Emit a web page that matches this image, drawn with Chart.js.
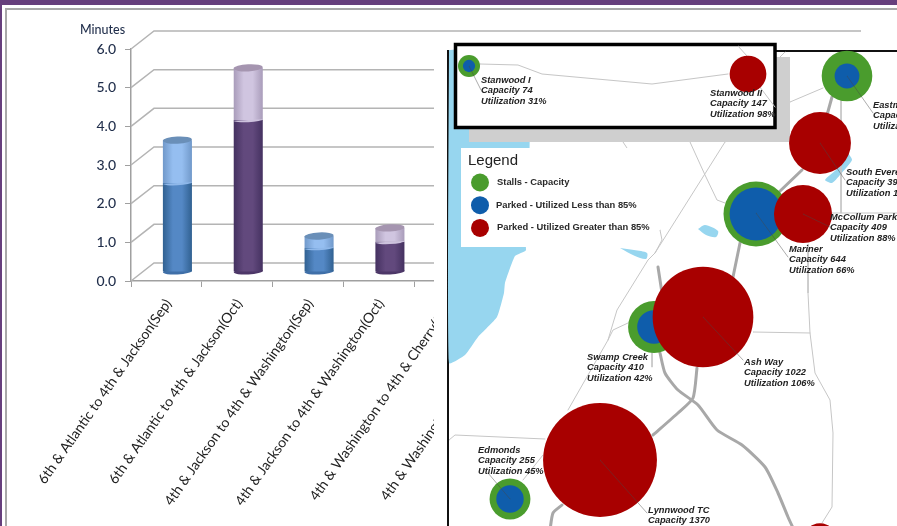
<!DOCTYPE html>
<html lang="en">
<head>
    <meta charset="UTF-8">
    <title>Travel time and park and ride utilization</title>
    <script src="https://cdn.jsdelivr.net/npm/chart.js"></script>
    <style>
        html, body { margin: 0; padding: 0; background: #fff; overflow: hidden; width: 897px; height: 526px; }
        .abs { position: absolute; }
        #topBar { left: 0; top: 0; width: 897px; height: 5px; background: #663f7c; }
        #leftBar { left: 0; top: 0; width: 2px; height: 526px; background: #663f7c; }
        #panelTop { left: 5px; top: 8px; width: 892px; height: 2px; background: #a8a8a8; }
        #panelLeft { left: 5px; top: 8px; width: 2px; height: 518px; background: #a8a8a8; }
        #timeBox { left: 0; top: 0; width: 870px; height: 526px; }
        #cover { left: 434px; top: 36px; width: 463px; height: 490px; background: #fff; }
        #mapFrame { left: 447px; top: 50px; width: 450px; height: 476px; border-left: 2px solid #111; border-top: 2px solid #111; box-sizing: border-box; }
        #mapBox { left: 447px; top: 40px; width: 450px; height: 486px; }
    </style>
</head>
<body>
    <div class="abs" id="topBar"></div>
    <div class="abs" id="leftBar"></div>
    <div class="abs" id="panelTop"></div>
    <div class="abs" id="panelLeft"></div>
    <div class="abs" id="timeBox"><canvas id="timeChart" width="870" height="526"></canvas></div>
    <div class="abs" id="cover"></div>
    <div class="abs" id="mapFrame"></div>
    <div class="abs" id="mapBox"><canvas id="mapChart" width="450" height="486"></canvas></div>

    <script>
        // travel time chart
        const segments = [
            '6th & Atlantic to 4th & Jackson(Sep)',
            '6th & Atlantic to 4th & Jackson(Oct)',
            '4th & Jackson to 4th & Washington(Sep)',
            '4th & Jackson to 4th & Washington(Oct)',
            '4th & Washington to 4th & Cherry(Sep)',
            '4th & Washington to 4th & Cherry(Oct)'
        ];
        // last two bars are hidden behind the map in the picture
        const lowerMinutes = [2.3, 3.93, 0.62, 0.78, null, null];
        const upperMinutes = [1.11, 1.35, 0.31, 0.36, null, null];
        const yTicks = [0, 1, 2, 3, 4, 5, 6];

        // park and ride map, locations in map units
        const stationNames = ['Stanwood I', 'Stanwood II', 'Eastmont', 'South Everett', 'McCollum Park', 'Mariner', 'Swamp Creek', 'Ash Way', 'Edmonds', 'Lynnwood TC', ''];
        const stationCapacity = [74, 147, 391, 397, 409, 644, 410, 1022, 255, 1370, 140];
        const stationUtilization = [31, 98, 24, 103, 88, 66, 42, 106, 45, 101, 95];
        const stationX = [469, 748, 847, 820, 803, 756, 654, 703, 510, 600, 820];
        const stationY = [66, 74, 76, 143, 214, 214, 327, 317, 499, 460, 541];
        const legendItems = ['Stalls - Capacity', 'Parked - Utilized Less than 85%', 'Parked - Utilized Greater than 85%'];

        const GREEN = '#4a9c2d', BLUE = '#0f5dab', RED = '#a80000', WATER = '#97d6ef';
        const BAR_SHIFT_X = 11, BAR_SHIFT_Y = -9;   // bars stand halfway into the 3d floor
        const WALL_X = 23, WALL_Y = -18;

        function cylinderFill(ctx, edge, middle) {
            const chart = ctx.chart;
            const cx = chart.scales.x ? chart.scales.x.getPixelForValue(ctx.dataIndex) : NaN;
            if (!isFinite(cx)) return edge;
            const g = chart.ctx.createLinearGradient(cx - 15, 0, cx + 15, 0);
            g.addColorStop(0, edge);
            g.addColorStop(0.35, middle);
            g.addColorStop(0.65, middle);
            g.addColorStop(1, edge);
            return g;
        }

        const wallPlugin = {
            id: 'wall',
            beforeDatasetsDraw(chart) {
                const c = chart.ctx, y = chart.scales.y, left = chart.chartArea.left;
                c.save();
                c.strokeStyle = '#b4b4b4';
                c.lineWidth = 1.5;
                yTicks.forEach(v => {
                    const py = y.getPixelForValue(v);
                    c.beginPath();
                    c.moveTo(left, py);
                    c.lineTo(left + WALL_X, py + WALL_Y);
                    c.lineTo(v === 6 ? 861 : 434, py + WALL_Y);
                    c.stroke();
                });
                c.restore();
                c.save();
                c.translate(BAR_SHIFT_X, BAR_SHIFT_Y);
                // round foot of each cylinder goes under the bar
                const meta = chart.getDatasetMeta(0);
                meta.data.forEach((bar, i) => {
                    if (lowerMinutes[i] === null) return;
                    c.fillStyle = i % 2 ? '#4d3768' : '#3f6fa8';
                    c.beginPath();
                    c.ellipse(bar.x, bar.base, 14.5, 3, -0.05, 0, Math.PI * 2);
                    c.fill();
                });
                c.restore();
                c.save();
                c.translate(BAR_SHIFT_X, BAR_SHIFT_Y);
            },
            afterDatasetsDraw(chart) {
                const c = chart.ctx;
                const lower = chart.getDatasetMeta(0), upper = chart.getDatasetMeta(1);
                lower.data.forEach((bar, i) => {
                    if (lowerMinutes[i] === null) return;
                    // light band hangs over the dark part, cap closes the top
                    c.fillStyle = i % 2 ? '#cdc2dd' : '#8fb8ea';
                    c.beginPath();
                    c.ellipse(bar.x, bar.y, 14.5, 2.2, -0.05, 0, Math.PI);
                    c.fill();
                    const top = upper.data[i];
                    c.fillStyle = i % 2 ? '#a595b0' : '#6a8fb8';
                    c.beginPath();
                    c.ellipse(top.x, top.y, 14.5, 3.6, -0.05, 0, Math.PI * 2);
                    c.fill();
                });
                c.restore();
            },
            afterDraw(chart) {
                const c = chart.ctx;
                c.save();
                c.fillStyle = '#1f2d4a';
                c.font = '500 12.5px Lato';
                c.textBaseline = 'middle';
                c.fillText('Minutes', 80, 30);
                c.restore();
            }
        };

        new Chart(document.getElementById('timeChart'), {
            type: 'bar',
            data: {
                labels: segments,
                datasets: [
                    {
                        label: 'Lower',
                        data: lowerMinutes,
                        backgroundColor: ctx => ctx.dataIndex % 2
                            ? cylinderFill(ctx, '#43305f', '#62497d')
                            : cylinderFill(ctx, '#2f5f8f', '#5488c5')
                    },
                    {
                        label: 'Upper',
                        data: upperMinutes,
                        backgroundColor: ctx => ctx.dataIndex % 2
                            ? cylinderFill(ctx, '#a79ab8', '#d0c5e0')
                            : cylinderFill(ctx, '#6f97c8', '#95bef0')
                    }
                ]
            },
            options: {
                responsive: false,
                animation: false,
                barPercentage: 0.41,
                categoryPercentage: 1,
                layout: { padding: { top: 49, right: 314, left: 0, bottom: 0 } },
                plugins: { legend: { display: false }, tooltip: { enabled: false } },
                scales: {
                    x: {
                        stacked: true,
                        border: { color: '#a0a0a0', width: 1.5 },
                        grid: { drawOnChartArea: false, color: '#a0a0a0', tickLength: 6, offset: true },
                        ticks: {
                            autoSkip: false, minRotation: 55, maxRotation: 55, padding: 9, labelOffset: 2,
                            color: '#222', font: { family: 'Lato', size: 14 }
                        },
                        afterFit(scale) {
                            scale.height = 245;
                            scale.paddingLeft = 0;
                            scale.paddingRight = 0;
                        }
                    },
                    y: {
                        stacked: true,
                        min: 0,
                        max: 6,
                        border: { color: '#a0a0a0', width: 1.5 },
                        grid: { drawOnChartArea: false, color: '#a0a0a0', tickLength: 6 },
                        afterBuildTicks(scale) { scale.ticks = yTicks.map(v => ({ value: v })); },
                        ticks: {
                            padding: 9,
                            color: '#1f2d4a',
                            font: { family: 'Lato', size: 14, weight: '500' },
                            callback: v => v.toFixed(1)
                        },
                        afterFit(scale) { scale.width = 131; }
                    }
                }
            },
            plugins: [wallPlugin]
        });

        // map features, same units as the station locations
        const pts = list => list.map(p => ({ x: p[0], y: p[1] }));
        const shapes = [
            { fill: WATER, path: [[449, 50], [526, 50], [526, 250], [515, 256], [505, 283], [504, 293], [497, 317], [478, 337], [465, 355], [449, 363], [449, 50]], tension: 0.15 },
            { fill: WATER, path: [[698, 229], [705, 225], [718, 231], [716, 237], [706, 235], [698, 229]], tension: 0.3 },
            { fill: WATER, path: [[620, 248], [634, 250], [647, 253], [646, 259], [635, 256], [620, 248]], tension: 0.3 },
            { fill: WATER, path: [[848, 153], [852, 160], [840, 175], [832, 183], [825, 180], [838, 168], [848, 153]], tension: 0.2 }
        ];
        const thinRoads = [
            [[808, 244], [808, 293], [810, 333], [815, 373], [830, 400], [833, 433], [832, 507], [822, 523]],
            [[841, 100], [841, 213]],
            [[830, 213], [897, 213]],
            [[753, 332], [810, 333]],
            [[690, 142], [705, 175], [717, 200], [725, 203]],
            [[725, 142], [655, 253], [648, 260], [617, 310], [608, 340], [568, 410]],
            [[660, 230], [662, 240], [655, 253]],
            [[608, 340], [613, 330], [628, 323]],
            [[652, 343], [652, 367]],
            [[449, 440], [455, 435], [545, 439]],
            [[543, 455], [523, 480]],
            [[623, 142], [627, 148]],
            [[790, 102], [823, 88]],
            [[785, 52], [779, 58]]
        ];
        const thickRoads = [
            [[832, 97], [827, 115]],
            [[802, 170], [778, 193]],
            [[740, 243], [733, 277]],
            [[697, 368], [693, 398], [678, 413], [653, 435]],
            [[658, 267], [662, 293]],
            [[660, 353], [665, 373], [678, 390], [698, 405], [717, 430], [742, 445], [765, 467], [778, 493], [788, 517], [794, 530]],
            [[562, 505], [553, 513], [550, 530]]
        ];
        const boxes = [
            { fill: '#cfcfcf', stroke: '#cfcfcf', width: 0, path: [[469, 57], [790, 57], [790, 142], [469, 142], [469, 57]] },
            { fill: '#ffffff', stroke: '#ffffff', width: 0, path: [[461, 148], [657, 148], [657, 247], [461, 247], [461, 148]] },
            { fill: '#ffffff', stroke: '#000000', width: 3.5, path: [[455.5, 44.5], [775, 44.5], [775, 127.5], [455.5, 127.5], [455.5, 44.5]] }
        ];
        const insetRoads = [
            [[480, 64], [518, 65], [542, 74], [652, 84], [728, 74]],
            [[738, 46], [747, 56]],
            [[753, 78], [775, 107]]
        ];
        const leaders = [
            [[469, 66], [481, 90]],
            [[847, 76], [873, 113]],
            [[820, 143], [845, 180]],
            [[803, 214], [830, 227]],
            [[756, 213], [788, 257]],
            [[703, 317], [743, 360]],
            [[600, 460], [647, 513]],
            [[510, 499], [488, 473]]
        ];
        const labelSpots = [[481, 80], [710, 93], [873, 105], [846, 172], [830, 217], [789, 249], [587, 357], [744, 362], [478, 450], [648, 510]];

        const lineSet = (path, color, width, extra) => Object.assign({
            type: 'line', data: pts(path), borderColor: color, borderWidth: width,
            pointRadius: 0, fill: false, tension: 0, clip: false, borderCapStyle: 'round'
        }, extra || {});

        const mapSets = [];
        shapes.forEach(s => mapSets.push(lineSet(s.path, s.fill, 0, { backgroundColor: s.fill, fill: 'shape', tension: s.tension })));
        thinRoads.forEach(r => mapSets.push(lineSet(r, '#c6c6c6', 1)));
        thickRoads.forEach(r => mapSets.push(lineSet(r, '#a8a8a8', 3, { tension: 0.2 })));
        boxes.forEach(b => mapSets.push(lineSet(b.path, b.stroke, b.width, { backgroundColor: b.fill, fill: 'shape', borderCapStyle: 'square' })));
        insetRoads.forEach(r => mapSets.push(lineSet(r, '#c6c6c6', 1)));

        const stalls = [], parkedLow = [], parkedHigh = [];
        stationNames.forEach((name, i) => {
            const parked = stationCapacity[i] * stationUtilization[i] / 100;
            stalls.push({ x: stationX[i], y: stationY[i], r: 1.28 * Math.sqrt(stationCapacity[i]) });
            if (stationUtilization[i] > 85) parkedHigh.push({ x: stationX[i], y: stationY[i], r: 1.53 * Math.sqrt(parked) });
            else parkedLow.push({ x: stationX[i], y: stationY[i], r: 1.28 * Math.sqrt(parked) });
        });
        [[stalls, GREEN], [parkedLow, BLUE], [parkedHigh, RED]].forEach(([data, color]) => {
            mapSets.push({ type: 'bubble', data: data, backgroundColor: color, borderWidth: 0, clip: false });
        });
        leaders.forEach(r => mapSets.push(lineSet(r, 'rgba(70,70,70,0.45)', 1)));

        // earlier datasets draw on top by default, so number them backwards
        mapSets.forEach((d, i) => { d.order = mapSets.length - i; });

        const mapTextPlugin = {
            id: 'mapText',
            afterDraw(chart) {
                const c = chart.ctx, sx = chart.scales.x, sy = chart.scales.y;
                const X = v => sx.getPixelForValue(v), Y = v => sy.getPixelForValue(v);
                c.save();
                c.textBaseline = 'middle';
                c.fillStyle = '#222';
                c.font = '15px "Liberation Sans"';
                c.fillText('Legend', X(468), Y(161));
                [GREEN, BLUE, RED].forEach((color, i) => {
                    c.fillStyle = color;
                    c.beginPath();
                    c.arc(X(480), Y(182.5 + i * 22.7), 9, 0, Math.PI * 2);
                    c.fill();
                    c.fillStyle = '#2a2a2a';
                    c.font = 'bold 9.4px "Liberation Sans"';
                    c.fillText(legendItems[i], X(i === 1 ? 496 : 497), Y(182.5 + i * 22.7));
                });
                c.font = 'italic bold 9.3px "Liberation Sans"';
                c.fillStyle = '#222';
                labelSpots.forEach((spot, i) => {
                    c.fillText(stationNames[i], X(spot[0]), Y(spot[1]));
                    c.fillText('Capacity ' + stationCapacity[i], X(spot[0]), Y(spot[1] + 10.7));
                    c.fillText('Utilization ' + stationUtilization[i] + '%', X(spot[0]), Y(spot[1] + 21.4));
                });
                c.restore();
            }
        };

        new Chart(document.getElementById('mapChart'), {
            type: 'bubble',
            data: { datasets: mapSets },
            options: {
                responsive: false,
                animation: false,
                layout: { autoPadding: false },
                plugins: { legend: { display: false }, tooltip: { enabled: false } },
                scales: {
                    x: { type: 'linear', min: 447, max: 897, display: false },
                    y: { type: 'linear', min: 40, max: 526, reverse: true, display: false }
                }
            },
            plugins: [mapTextPlugin]
        });
    </script>
</body>
</html>
